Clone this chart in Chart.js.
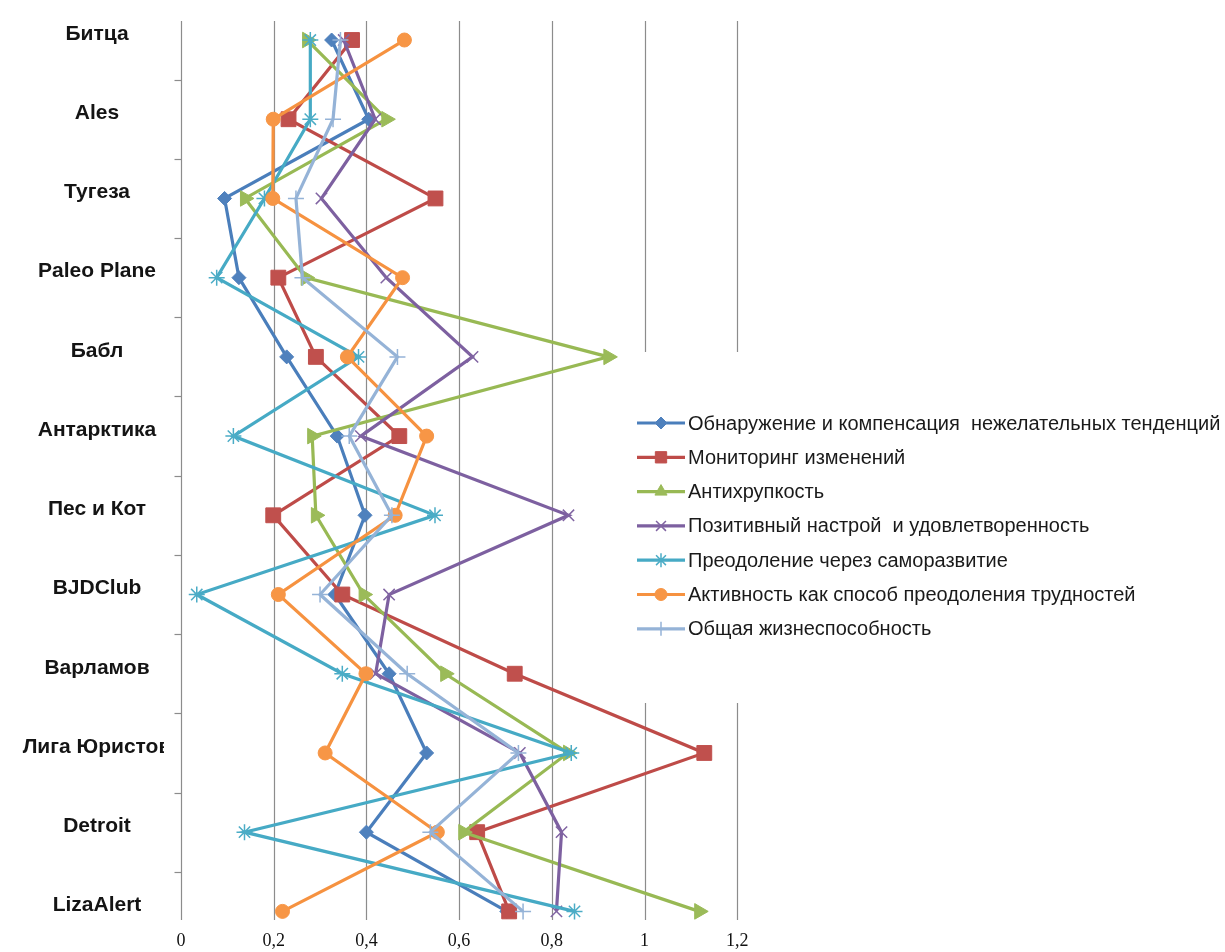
<!DOCTYPE html>
<html>
<head>
<meta charset="utf-8">
<script src="https://cdn.jsdelivr.net/npm/chart.js@4.4.1/dist/chart.umd.min.js"></script>
<style>
  html, body { margin: 0; padding: 0; background: #ffffff; }
  #wrap { width: 1225px; height: 952px; }
</style>
</head>
<body>
<div id="wrap"><canvas id="c" width="1225" height="952" style="width:1225px;height:952px"></canvas></div>
<script>
// ---------- data ----------
const categories = ['Битца', 'Ales', 'Тугеза', 'Paleo Plane', 'Бабл', 'Антарктика', 'Пес и Кот', 'BJDClub', 'Варламов', 'Лига Юристов', 'Detroit', 'LizaAlert'];

const seriesNames = [
  'Обнаружение и компенсация  нежелательных тенденций',
  'Мониторинг изменений',
  'Антихрупкость',
  'Позитивный настрой  и удовлетворенность',
  'Преодоление через саморазвитие',
  'Активность как способ преодоления трудностей',
  'Общая жизнеспособность'
];

const obnaruzhenie = [0.325, 0.405, 0.094, 0.125, 0.228, 0.337, 0.397, 0.332, 0.449, 0.530, 0.400, 0.703];
const monitoring   = [0.369, 0.232, 0.549, 0.210, 0.291, 0.471, 0.199, 0.348, 0.720, 1.129, 0.639, 0.708];
const antikhrupkost = [0.272, 0.443, 0.138, 0.269, 0.922, 0.283, 0.291, 0.394, 0.570, 0.835, 0.609, 1.118];
const pozitivny    = [0.351, 0.419, 0.303, 0.443, 0.629, 0.388, 0.836, 0.449, 0.420, 0.731, 0.821, 0.810];
const preodolenie  = [0.279, 0.279, 0.180, 0.077, 0.383, 0.113, 0.548, 0.034, 0.348, 0.842, 0.137, 0.849];
const aktivnost    = [0.482, 0.199, 0.198, 0.478, 0.359, 0.530, 0.462, 0.210, 0.399, 0.311, 0.553, 0.219];
const obshchaya    = [0.344, 0.328, 0.248, 0.262, 0.467, 0.363, 0.455, 0.300, 0.488, 0.728, 0.538, 0.738];

const xTickLabels = ['0', '0,2', '0,4', '0,6', '0,8', '1', '1,2'];

// ---------- styles ----------
const seriesData = [obnaruzhenie, monitoring, antikhrupkost, pozitivny, preodolenie, aktivnost, obshchaya];
const lineColors = ['#4A7EBB', '#BE4B48', '#98B954', '#7D60A0', '#46AAC5', '#F69240', '#95B3D7'];
const markerFill = ['#4F81BD', '#C0504D', '#9BBB59', '#8064A2', '#4BACC6', '#F79646', '#95B3D7'];
const pStyles   = ['rectRot', 'rect', 'triangle', 'crossRot', 'star', 'circle', 'cross'];
const pRadius   = [7, 10.5, 9, 8, 8, 7, 8];
const pRotation = [0, 0, 90, 0, 0, 0, 0];
const pBorderW  = [1, 1, 1, 1.5, 1.5, 1, 1.5];
const legRadius = [6, 8, 7, 7, 7, 6, 7];

const yFont = { family: '"Liberation Sans", Arial, sans-serif', size: 21, weight: 'bold' };
const labelCenterX = 97;
const axisX = 181;

// measure widest category label for centering
const mctx = document.createElement('canvas').getContext('2d');
mctx.font = 'bold 21px "Liberation Sans", Arial, sans-serif';
let widest = 0;
categories.forEach(c => { widest = Math.max(widest, mctx.measureText(c).width); });
const yPad = axisX - labelCenterX - widest / 2;

const datasets = seriesData.map((d, i) => ({
  label: seriesNames[i],
  data: d,
  borderColor: lineColors[i],
  backgroundColor: markerFill[i],
  borderWidth: 3.2,
  tension: 0,
  pointStyle: pStyles[i],
  pointRadius: pRadius[i],
  pointHoverRadius: pRadius[i],
  pointRotation: pRotation[i],
  pointBackgroundColor: markerFill[i],
  pointBorderColor: markerFill[i],
  pointBorderWidth: pBorderW[i],
  order: 6 - i,
  clip: false
}));

// ---------- plugins ----------
const whiteBg = {
  id: 'whiteBg',
  afterLayout(chart) {
    // place the category band and the value-axis labels like the original picture
    const y = chart.scales.y, x = chart.scales.x;
    y.top = 0.4; y.bottom = 951; y.height = y.bottom - y.top; y.configure();
    x.top = 926; x.bottom = 952; x.height = 26; x.configure();
    chart.chartArea.top = 0.4; chart.chartArea.bottom = 951;
    chart.chartArea.height = chart.chartArea.bottom - chart.chartArea.top;
  },
  beforeDraw(chart) {
    const ctx = chart.ctx;
    ctx.save();
    ctx.fillStyle = '#ffffff';
    ctx.fillRect(0, 0, chart.width, chart.height);
    ctx.restore();
    // clip long category labels like the original
    const s = chart.scales.y;
    if (s && !s._clipPatched) {
      const orig = s.drawLabels.bind(s);
      s.drawLabels = function (area) {
        const c = chart.ctx;
        c.save();
        c.beginPath();
        c.rect(0, 0, 164, chart.height);
        c.clip();
        orig(area);
        c.restore();
      };
      s._clipPatched = true;
    }
  }
};

function drawMarker(ctx, style, r, rot, x, y, bw) {
  if (Chart.helpers && Chart.helpers.drawPoint) {
    Chart.helpers.drawPoint(ctx, { pointStyle: style, radius: r, rotation: rot, borderWidth: bw }, x, y);
  } else {
    ctx.beginPath();
    ctx.arc(x, y, r, 0, Math.PI * 2);
    ctx.fill();
  }
}

const frameAndLegend = {
  id: 'frameAndLegend',
  beforeDatasetsDraw(chart) {
    const { ctx } = chart;
    const x = chart.scales.x, y = chart.scales.y;
    const yTop = 21;
    const yBot = 920;
    ctx.save();
    ctx.strokeStyle = '#8C8C8C';
    ctx.lineWidth = 1.2;
    // vertical grid lines (including axis at 0)
    x.ticks.forEach(t => {
      const px = Math.round(x.getPixelForValue(t.value)) + 0.5;
      ctx.beginPath();
      ctx.moveTo(px, yTop);
      ctx.lineTo(px, yBot);
      ctx.stroke();
    });
    // category tick marks between categories
    const ax = Math.round(x.getPixelForValue(0)) + 0.5;
    for (let i = 0; i < categories.length - 1; i++) {
      const py = Math.round((y.getPixelForValue(i) + y.getPixelForValue(i + 1)) / 2) + 0.5;
      ctx.beginPath();
      ctx.moveTo(ax - 7, py);
      ctx.lineTo(ax, py);
      ctx.stroke();
    }
    // legend box
    ctx.fillStyle = '#ffffff';
    ctx.fillRect(600, 352, chart.width - 600, 351);
    // legend items
    const lx0 = 637, lx1 = 685, tx = 688, ly0 = 423, step = 34.3;
    ctx.font = '20px "Liberation Sans", Arial, sans-serif';
    ctx.textBaseline = 'middle';
    ctx.textAlign = 'left';
    seriesNames.forEach((name, i) => {
      const ly = ly0 + i * step;
      ctx.strokeStyle = lineColors[i];
      ctx.lineWidth = 3.2;
      ctx.beginPath();
      ctx.moveTo(lx0, ly);
      ctx.lineTo(lx1, ly);
      ctx.stroke();
      ctx.fillStyle = markerFill[i];
      ctx.strokeStyle = markerFill[i];
      ctx.lineWidth = pBorderW[i];
      drawMarker(ctx, pStyles[i], legRadius[i], 0, (lx0 + lx1) / 2, ly, pBorderW[i]);
      ctx.fillStyle = '#1a1a1a';
      ctx.fillText(name, tx, ly + 1);
    });
    ctx.restore();
  }
};

// ---------- chart ----------
new Chart(document.getElementById('c'), {
  type: 'line',
  data: { labels: categories, datasets },
  plugins: [whiteBg, frameAndLegend],
  options: {
    responsive: false,
    animation: false,
    devicePixelRatio: 1,
    indexAxis: 'y',
    layout: { padding: { left: 0, top: 0, bottom: 0, right: 1225 - 737.2 } },
    plugins: { legend: { display: false }, tooltip: { enabled: false } },
    scales: {
      x: {
        type: 'linear',
        position: 'bottom',
        min: 0,
        max: 1.2,
        grid: { display: false, drawTicks: false },
        border: { display: false },
        ticks: {
          stepSize: 0.2,
          padding: 4,
          color: '#111111',
          font: { family: '"Liberation Serif", "Times New Roman", serif', size: 18 },
          callback: (v, i) => xTickLabels[i]
        }
      },
      y: {
        type: 'category',
        position: 'left',
        offset: true,
        grid: { display: false, drawTicks: false, offset: true },
        border: { display: false },
        ticks: {
          autoSkip: false,
          crossAlign: 'center',
          padding: yPad,
          labelOffset: -6,
          color: '#141414',
          font: yFont
        },
        afterFit(s) { s.width = axisX; }
      }
    }
  }
});
</script>
</body>
</html>
